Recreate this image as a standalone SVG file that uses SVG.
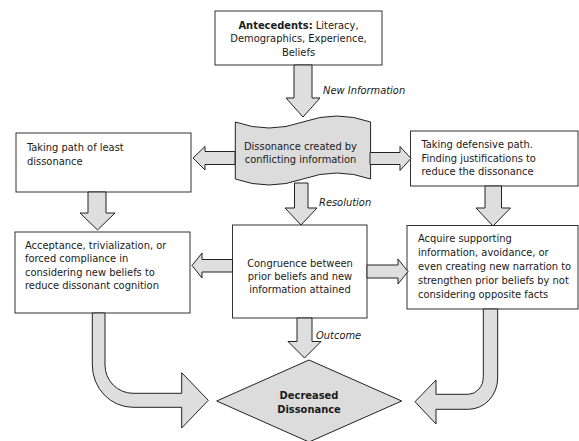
<svg xmlns="http://www.w3.org/2000/svg" width="579" height="441" viewBox="0 0 579 441">
<style>
.box{fill:#ffffff;stroke:#333333;stroke-width:1}
.shape{fill:#dcdcdc;stroke:#222222;stroke-width:1}
.arr{fill:#dedede;stroke:#222222;stroke-width:1;stroke-linejoin:miter}
text{font-family:"DejaVu Sans Condensed","DejaVu Sans",Verdana,sans-serif;font-size:11px;fill:#1a1a1a}
.c{text-anchor:middle}
.b{font-weight:bold}
.i{font-style:italic}
</style>
<rect width="579" height="441" fill="#ffffff"/>
<g id="antecedents">
<rect class="box" x="215" y="11" width="167" height="54"/>
<text class="c" x="298.5" y="28.5"><tspan class="b">Antecedents:</tspan> Literacy,</text>
<text class="c" x="298.5" y="42">Demographics, Experience,</text>
<text class="c" x="298.5" y="55.5">Beliefs</text>
</g>
<g id="dissonance">
<path class="shape" d="M235.3,122 Q269.1,134 302.9,122 T370.6,122 V179 Q336.8,167 302.9,179 T235.3,179 Z"/>
<text class="c" x="300.5" y="149.5">Dissonance created by</text>
<text class="c" x="300.5" y="163">conflicting information</text>
</g>
<g id="least-path">
<rect class="box" x="16" y="133" width="175" height="59"/>
<text x="27" y="151">Taking path of least</text>
<text x="27" y="164.5">dissonance</text>
</g>
<g id="defensive-path">
<rect class="box" x="410.5" y="131" width="167.5" height="55"/>
<text x="421.5" y="148">Taking defensive path.</text>
<text x="421.5" y="161.5">Finding justifications to</text>
<text x="421.5" y="175">reduce the dissonance</text>
</g>
<g id="acceptance">
<rect class="box" x="15" y="232" width="175" height="81"/>
<text x="25" y="248.5">Acceptance, trivialization, or</text>
<text x="25" y="262">forced compliance in</text>
<text x="25" y="275.5">considering new beliefs to</text>
<text x="25" y="289">reduce dissonant cognition</text>
</g>
<g id="congruence">
<rect class="box" x="232.5" y="225" width="134.5" height="93"/>
<text class="c" x="300" y="266.5">Congruence between</text>
<text class="c" x="300" y="280">prior beliefs and new</text>
<text class="c" x="300" y="293">information attained</text>
</g>
<g id="supporting">
<rect class="box" x="407" y="225.5" width="171" height="83.5"/>
<text x="418" y="242">Acquire supporting</text>
<text x="418" y="256">information, avoidance, or</text>
<text x="418" y="270">even creating new narration to</text>
<text x="418" y="284">strengthen prior beliefs by not</text>
<text x="418" y="298">considering opposite facts</text>
</g>
<g id="decreased">
<path class="shape" d="M309,360 L401.7,401 L309,442 L216.7,401 Z"/>
<text class="c b" x="309" y="399">Decreased</text>
<text class="c b" x="309" y="412.5">Dissonance</text>
</g>
<g id="connectors">
<path class="arr" d="M294,65 H312 V98 H320 L303,117 L286,98 H294 Z"/>
<path class="arr" d="M294.5,183 H308 V208 H317 L301,225 L285,208 H294.5 Z"/>
<path class="arr" d="M235,151.5 V164.5 H205 V170 L193,158 L205,146.5 V151.5 Z"/>
<path class="arr" d="M370,152.5 H400 V146.5 L411,158.5 L400,170.5 V164.5 H370 Z"/>
<path class="arr" d="M88,192 H106 V213 H115 L97.5,230 L80,213 H88 Z"/>
<path class="arr" d="M485,186 H501.5 V208 H510.5 L493,226 L476,208 H485 Z"/>
<path class="arr" d="M232.5,259.5 V272 H202 V278 L192,265.5 L202,253 V259.5 Z"/>
<path class="arr" d="M367,265 H398 V259 L408,271.5 L398,284 V278 H367 Z"/>
<path class="arr" d="M297,318 H312 V341.5 H321 L304.5,358 L288,341.5 H297 Z"/>
<path class="arr" d="M92.3,313 H105 V365 A28,28.3 0 0 0 133,393.3 H181.7 V372.7 L208.3,400.3 L181.7,428 V407.3 H133 A40.7,42.3 0 0 1 92.3,365 Z"/>
<path class="arr" d="M483.3,309 H497.7 V378 A29.4,31.3 0 0 1 468.3,409.3 H436 V424 L415,401.7 L436,380 V394.3 H468.3 A15,17.6 0 0 0 483.3,376.7 Z"/>
<text class="i" x="323" y="94">New Information</text>
<text class="i" x="319" y="206">Resolution</text>
<text class="i" x="316" y="339">Outcome</text>
</g>
</svg>
